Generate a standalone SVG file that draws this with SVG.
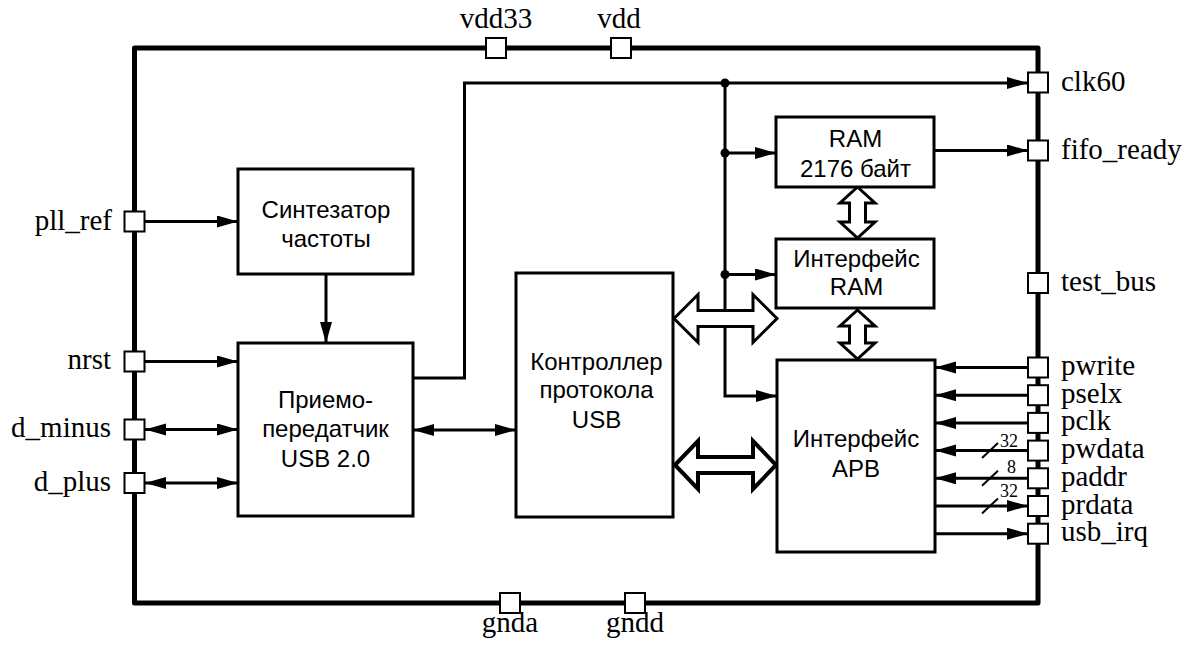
<svg xmlns="http://www.w3.org/2000/svg" width="1197" height="645" viewBox="0 0 1197 645">
<style>
.frame{fill:none;stroke:#000;stroke-width:5;stroke-linejoin:round}
.box{fill:#fff;stroke:#000;stroke-width:3}
.pin{fill:#fff;stroke:#000;stroke-width:2}
.w{fill:none;stroke:#000;stroke-width:3}
.arr{marker-end:url(#ah)}
.dbl{marker-start:url(#ah);marker-end:url(#ah)}
.hollow{fill:#fff;stroke:#000;stroke-width:3;stroke-linejoin:miter}
.lbl{font-family:"Liberation Serif","Times New Roman",serif;font-size:29px;fill:#000}
.sm{font-family:"Liberation Serif","Times New Roman",serif;font-size:18px;fill:#000}
.t{font-family:"Liberation Sans",Arial,sans-serif;font-size:24px;fill:#000;text-anchor:middle}
.slash{stroke:#000;stroke-width:2}
</style>
<defs>
<marker id="ah" markerUnits="userSpaceOnUse" markerWidth="22" markerHeight="14" refX="21" refY="6" orient="auto-start-reverse">
<path d="M0,0 L21,6 L0,12 Z" fill="#000"/>
</marker>
</defs>
<rect width="1197" height="645" fill="#fff"/>
<g id="frame">
<rect class="frame" x="134.5" y="48" width="903.5" height="555"/>
</g>
<g id="connectors">
<line class="w arr" x1="145" y1="221.5" x2="238" y2="221.5"/>
<line class="w arr" x1="326" y1="274" x2="326" y2="343"/>
<line class="w arr" x1="145" y1="361.5" x2="238" y2="361.5"/>
<line class="w dbl" x1="145" y1="429.5" x2="238" y2="429.5"/>
<line class="w dbl" x1="145" y1="483" x2="238" y2="483"/>
<line class="w dbl" x1="413" y1="430" x2="516" y2="430"/>
<polyline class="w arr" points="413,378 464.5,378 464.5,83 1028,83"/>
<polyline class="w arr" points="725,83 725,396 777,396"/>
<line class="w arr" x1="725" y1="153" x2="776" y2="153"/>
<line class="w arr" x1="725" y1="274.5" x2="776" y2="274.5"/>
<line class="w arr" x1="934" y1="150.5" x2="1028" y2="150.5"/>
<circle cx="725" cy="83" r="4.5"/>
<circle cx="725" cy="153" r="4.5"/>
<circle cx="725" cy="274.5" r="4.5"/>
<line class="w arr" x1="1028" y1="367.5" x2="935" y2="367.5"/>
<line class="w arr" x1="1028" y1="395.2" x2="935" y2="395.2"/>
<line class="w arr" x1="1028" y1="422.9" x2="935" y2="422.9"/>
<line class="w arr" x1="1028" y1="450.6" x2="935" y2="450.6"/>
<line class="w arr" x1="1028" y1="478.3" x2="935" y2="478.3"/>
<line class="w arr" x1="935" y1="506" x2="1028" y2="506"/>
<line class="w arr" x1="935" y1="533.7" x2="1028" y2="533.7"/>
<line class="slash" x1="982" y1="458" x2="998" y2="443"/>
<line class="slash" x1="982" y1="485.7" x2="998" y2="470.7"/>
<line class="slash" x1="982" y1="513.4" x2="998" y2="498.4"/>
<text class="sm" x="1000" y="446.5">32</text>
<text class="sm" x="1007" y="472.5">8</text>
<text class="sm" x="1000" y="496.5">32</text>
<path class="hollow" d="M857.5,187 L875,203 L865.5,203 L865.5,222 L875,222 L857.5,238 L840,222 L849.5,222 L849.5,203 L840,203 Z"/>
<path class="hollow" d="M857.5,310 L875,326 L865.5,326 L865.5,343 L875,343 L857.5,359 L840,343 L849.5,343 L849.5,326 L840,326 Z"/>
<path class="hollow" d="M674,318.5 L698,294.5 L698,310.5 L753,310.5 L753,294.5 L777,318.5 L753,342.5 L753,326.5 L698,326.5 L698,342.5 Z"/>
<path class="hollow" style="stroke-width:4" d="M675,465 L698,441 L698,457 L753,457 L753,441 L776,465 L753,489 L753,473 L698,473 L698,489 Z"/>
</g>
<g id="synth">
<rect class="box" x="238" y="169" width="175" height="105"/>
<text class="t" x="326" y="218">Синтезатор</text>
<text class="t" x="326" y="246.5">частоты</text>
</g>
<g id="transceiver">
<rect class="box" x="238" y="343" width="175" height="173"/>
<text class="t" x="325.5" y="408">Приемо-</text>
<text class="t" x="325.5" y="436.5">передатчик</text>
<text class="t" x="325.5" y="466.5">USB 2.0</text>
</g>
<g id="controller">
<rect class="box" x="516" y="273" width="157" height="244"/>
<text class="t" x="596.5" y="370">Контроллер</text>
<text class="t" x="596.5" y="398">протокола</text>
<text class="t" x="596.5" y="428">USB</text>
</g>
<g id="ram">
<rect class="box" x="776" y="117" width="158" height="70"/>
<text class="t" x="855.5" y="147">RAM</text>
<text class="t" x="855.5" y="176.5">2176 байт</text>
</g>
<g id="ram_if">
<rect class="box" x="776" y="239" width="158" height="69"/>
<text class="t" x="856.5" y="267">Интерфейс</text>
<text class="t" x="856.5" y="295">RAM</text>
</g>
<g id="apb_if">
<rect class="box" x="777" y="360" width="158" height="192"/>
<text class="t" x="856" y="446.5">Интерфейс</text>
<text class="t" x="856" y="476.5">APB</text>
</g>
<g id="pin_vdd33"><rect class="pin" x="486" y="38" width="20" height="20"/><text class="lbl" x="496" y="28" text-anchor="middle">vdd33</text></g>
<g id="pin_vdd"><rect class="pin" x="611" y="38" width="20" height="20"/><text class="lbl" x="619" y="28" text-anchor="middle">vdd</text></g>
<g id="pin_gnda"><rect class="pin" x="500" y="593" width="20" height="20"/><text class="lbl" x="510" y="632" text-anchor="middle">gnda</text></g>
<g id="pin_gndd"><rect class="pin" x="625" y="593" width="20" height="20"/><text class="lbl" x="635" y="632" text-anchor="middle">gndd</text></g>
<g id="pin_pll_ref"><rect class="pin" x="124.5" y="211.5" width="20" height="20"/><text class="lbl" x="112" y="229.5" text-anchor="end">pll_ref</text></g>
<g id="pin_nrst"><rect class="pin" x="124.5" y="351.5" width="20" height="20"/><text class="lbl" x="111" y="369" text-anchor="end">nrst</text></g>
<g id="pin_d_minus"><rect class="pin" x="124.5" y="419.5" width="20" height="20"/><text class="lbl" x="111" y="437" text-anchor="end">d_minus</text></g>
<g id="pin_d_plus"><rect class="pin" x="124.5" y="473" width="20" height="20"/><text class="lbl" x="111" y="490.5" text-anchor="end">d_plus</text></g>
<g id="pin_clk60"><rect class="pin" x="1028" y="72.5" width="20" height="20"/><text class="lbl" x="1061" y="91">clk60</text></g>
<g id="pin_fifo_ready"><rect class="pin" x="1028" y="140.5" width="20" height="20"/><text class="lbl" x="1061" y="158.5">fifo_ready</text></g>
<g id="pin_test_bus"><rect class="pin" x="1028" y="273" width="20" height="20"/><text class="lbl" x="1061" y="291">test_bus</text></g>
<g id="pin_pwrite"><rect class="pin" x="1028" y="357.5" width="20" height="20"/><text class="lbl" x="1061" y="375">pwrite</text></g>
<g id="pin_pselx"><rect class="pin" x="1028" y="385.2" width="20" height="20"/><text class="lbl" x="1061" y="402.7">pselx</text></g>
<g id="pin_pclk"><rect class="pin" x="1028" y="412.9" width="20" height="20"/><text class="lbl" x="1061" y="430.4">pclk</text></g>
<g id="pin_pwdata"><rect class="pin" x="1028" y="440.6" width="20" height="20"/><text class="lbl" x="1061" y="458.1">pwdata</text></g>
<g id="pin_paddr"><rect class="pin" x="1028" y="468.3" width="20" height="20"/><text class="lbl" x="1061" y="485.8">paddr</text></g>
<g id="pin_prdata"><rect class="pin" x="1028" y="496" width="20" height="20"/><text class="lbl" x="1061" y="513.5">prdata</text></g>
<g id="pin_usb_irq"><rect class="pin" x="1028" y="523.7" width="20" height="20"/><text class="lbl" x="1061" y="541.2">usb_irq</text></g>
</svg>
